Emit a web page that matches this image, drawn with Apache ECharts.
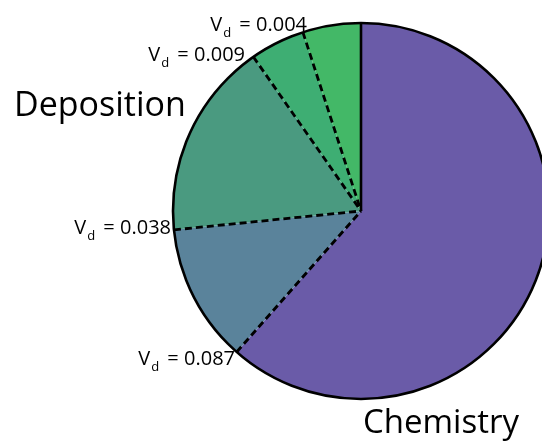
<!DOCTYPE html>
<html><head><meta charset="utf-8">
<script src="https://cdn.jsdelivr.net/npm/echarts@6/dist/echarts.min.js"></script>
<style>html,body{margin:0;padding:0;background:#fff}#c{width:542px;height:446px}</style>
</head><body><div id="c"></div>
<script>
// Slices, clockwise from 12 o'clock (percent of total loss)
const sliceNames = ['Chemistry', 'Dep 4', 'Dep 3', 'Dep 2', 'Dep 1'];
const sliceValues = [61.5, 11.9, 16.9, 4.7, 5.0];
const sliceColors = ['#6a5ba8', '#5a839b', '#4a9a80', '#3eae73', '#43b867'];
// Boundary labels (deposition velocities)
const vdLabels = ['0.087', '0.038', '0.009', '0.004'];
const groupLabels = ['Chemistry', 'Deposition'];

const total = sliceValues.reduce((a, b) => a + b, 0);
const center = [361, 211];
const radius = 188;
const font = 'Open Sans';

// cumulative boundaries between slices
const bounds = [];
let acc = 0;
sliceValues.forEach(v => { acc += v; bounds.push(acc); });
const dashedBounds = bounds.slice(0, bounds.length - 1);

const chart = echarts.init(document.getElementById('c'));
const vdPos = [[235, 374], [171, 243], [245, 70], [307, 40]];
const graphics = vdLabels.map((v, i) => ({
  type: 'text',
  x: vdPos[i][0], y: vdPos[i][1],
  style: {
    text: '{v|V}{d|d}{v| = ' + v + '}',
    textAlign: 'right', textVerticalAlign: 'bottom',
    rich: {
      v: { fontFamily: font, fontSize: 20, fill: '#000' },
      d: { fontFamily: font, fontSize: 13, fill: '#000', padding: [17, 3, 0, 1] }
    }
  }
}));
graphics.push({ type: 'text', x: 14, y: 106, style: { text: groupLabels[1], fontFamily: font, fontSize: 34, fill: '#000', textVerticalAlign: 'middle' } });
graphics.push({ type: 'text', x: 363, y: 424, style: { text: groupLabels[0], fontFamily: font, fontSize: 33, fill: '#000', textVerticalAlign: 'middle' } });

const lineSeries = (val, dashed) => ({
  type: 'line', coordinateSystem: 'polar', symbol: 'none', silent: true, z: 5,
  lineStyle: { color: '#000', width: dashed ? 2.8 : 2.6, type: dashed ? [7, 4] : 'solid', cap: 'butt' },
  data: [[1, val], [0, val]]
});

chart.setOption({
  animation: false,
  polar: { center: center, radius: radius },
  angleAxis: { type: 'value', min: 0, max: total, startAngle: 90, clockwise: true, show: false },
  radiusAxis: { type: 'value', min: 0, max: 1, show: false },
  series: [
    {
      type: 'pie', center: center, radius: radius, startAngle: 90, clockwise: true,
      label: { show: false }, labelLine: { show: false }, silent: true, z: 1,
      data: sliceNames.map((n, i) => ({
        name: n, value: sliceValues[i],
        itemStyle: { color: sliceColors[i], borderWidth: 0 }
      }))
    },
    {
      type: 'pie', center: center, radius: radius, startAngle: 90, clockwise: true,
      label: { show: false }, labelLine: { show: false }, silent: true, z: 6,
      data: [{ name: 'outline', value: total }],
      itemStyle: { color: 'rgba(0,0,0,0)', borderColor: '#000', borderWidth: 2.6 }
    },
    lineSeries(0, false)
  ].concat(dashedBounds.map(b => lineSeries(b, true))),
  graphic: graphics
});
</script></body></html>
